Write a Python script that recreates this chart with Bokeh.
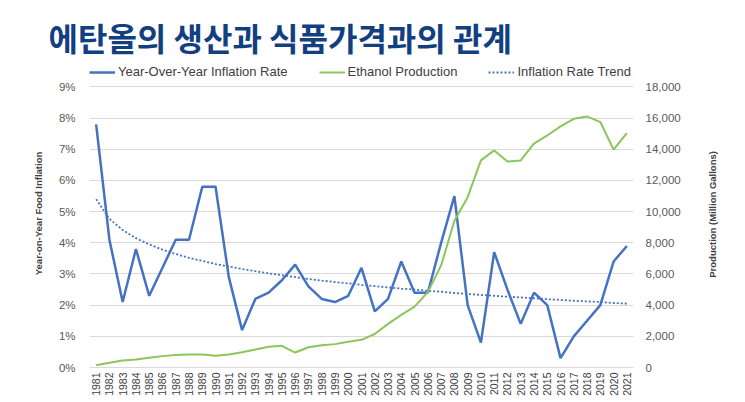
import math
from bokeh.plotting import figure
from bokeh.models import (Range1d, LinearAxis, FixedTicker, NumeralTickFormatter,
                          PrintfTickFormatter, Title, Legend, LegendItem)
from bokeh.embed import file_html
from bokeh.resources import INLINE

years = list(range(1981, 2022))
inflation = [7.8, 4.1, 2.1, 3.8, 2.3, 3.2, 4.1, 4.1, 5.8, 5.8,
             2.9, 1.2, 2.2, 2.4, 2.8, 3.3, 2.6, 2.2, 2.1, 2.3,
             3.2, 1.8, 2.2, 3.4, 2.4, 2.4, 4.0, 5.5, 2.0, 0.8,
             3.7, 2.5, 1.4, 2.4, 2.0, 0.3, 1.0, 1.5, 2.0, 3.4, 3.9]
ethanol = [150, 300, 450, 510, 620, 730, 810, 835, 835, 750,
           835, 985, 1155, 1325, 1390, 960, 1300, 1430, 1500, 1650,
           1775, 2150, 2800, 3380, 3910, 4840, 6550, 9400, 10930, 13290,
           13930, 13220, 13290, 14360, 14890, 15470, 15960, 16110, 15750, 13980, 15040]
trend = [5.40, 4.77, 4.41, 4.15, 3.95, 3.78, 3.64, 3.52, 3.42, 3.32,
         3.24, 3.16, 3.09, 3.02, 2.96, 2.90, 2.84, 2.79, 2.74, 2.70,
         2.65, 2.61, 2.57, 2.53, 2.50, 2.46, 2.43, 2.39, 2.36, 2.33,
         2.30, 2.27, 2.25, 2.22, 2.19, 2.17, 2.14, 2.12, 2.10, 2.07, 2.05]
pct_ticks = list(range(0, 10))
prod_ticks = list(range(0, 18001, 2000))
title_text = "에탄올의 생산과 식품가격과의 관계"
series_names = ["Year-Over-Year Inflation Rate", "Ethanol Production", "Inflation Rate Trend"]
left_title = "Year-on-Year Food Inflation"
right_title = "Production (Million Gallons)"

BLUE = "#4472C4"
GREEN = "#8CC65A"
GRID = "#D9D9D9"
SANS = "Liberation Sans"

# frame spans from the top of the legend row down to 0%; ticks stop at 9% / 18,000
PCT_TOP = 9.882
PROD_TOP = 18000 * PCT_TOP / 9

p = figure(width=745, height=402, output_backend="svg", toolbar_location=None,
           title=None,
           x_range=Range1d(1980.5, 2021.5), y_range=Range1d(0, PCT_TOP),
           min_border_left=89, min_border_right=112, min_border_top=59,
           min_border_bottom=35)
p.extra_y_ranges = {"prod": Range1d(0, PROD_TOP)}
p.outline_line_color = None
p.background_fill_color = "white"
p.border_fill_color = "white"
p.xgrid.grid_line_color = None
p.ygrid.grid_line_color = GRID
p.ygrid.grid_line_width = 1
p.ygrid.ticker = FixedTicker(ticks=pct_ticks)


def plain(axis):
    axis.axis_line_color = None
    axis.major_tick_line_color = None
    axis.minor_tick_line_color = None
    axis.major_tick_out = 0
    axis.major_tick_in = 0
    axis.minor_tick_out = 0
    axis.minor_tick_in = 0


ya = p.yaxis[0]
ya.ticker = FixedTicker(ticks=pct_ticks)
ya.formatter = PrintfTickFormatter(format="%d%%")
plain(ya)
ya.major_label_standoff = 14
ya.major_label_text_font = SANS
ya.major_label_text_font_size = "11.5px"
ya.major_label_text_color = "#595959"
ya.axis_label = left_title
ya.axis_label_text_font = SANS
ya.axis_label_text_font_style = "bold"
ya.axis_label_text_font_size = "9.5px"
ya.axis_label_text_color = "#404040"
ya.axis_label_standoff = 12

xa = p.xaxis[0]
xa.ticker = FixedTicker(ticks=years)
xa.major_label_orientation = math.pi / 2
plain(xa)
xa.axis_line_color = GRID
xa.major_label_standoff = 5
xa.major_label_text_font = SANS
xa.major_label_text_font_size = "10.5px"
xa.major_label_text_color = "#404040"

ra = LinearAxis(y_range_name="prod", ticker=FixedTicker(ticks=prod_ticks),
                formatter=NumeralTickFormatter(format="0,0"))
plain(ra)
ra.major_label_standoff = 12
ra.major_label_text_font = SANS
ra.major_label_text_font_size = "11.5px"
ra.major_label_text_color = "#595959"
ra.axis_label_text_font = SANS
ra.axis_label_text_font_style = "bold"
ra.axis_label_text_font_size = "9.5px"
ra.axis_label_text_color = "#404040"
ra.axis_label_standoff = 29
ra.axis_label_orientation = math.pi / 2
# the rotated label is anchored at its start; anchor it at the bottom of the
# axis and lift it with no-break spaces so that it sits centred like the original
try:
    ra.axis_label_align = "start"
    ra.axis_label = "\u00a0" * 34 + right_title
except Exception:
    ra.axis_label = right_title
p.add_layout(ra, "right")

r_blue = p.line(years, inflation, line_color=BLUE, line_width=2.5)
r_trend = p.line(years, trend, line_color=BLUE, line_width=1.8, line_dash="2 2")
r_green = p.line(years, ethanol, y_range_name="prod", line_color=GREEN, line_width=2)

legend = Legend(items=[LegendItem(label=series_names[0], renderers=[r_blue]),
                       LegendItem(label=series_names[1], renderers=[r_green]),
                       LegendItem(label=series_names[2], renderers=[r_trend])],
                location=(0, 288), orientation="horizontal")
legend.border_line_color = None
legend.background_fill_alpha = 0
legend.padding = 0
legend.margin = 0
legend.spacing = 31
legend.glyph_width = 26
legend.glyph_height = 14
legend.label_height = 14
legend.label_standoff = 3
legend.label_text_font = SANS
legend.label_text_font_size = "13px"
legend.label_text_color = "#404040"
p.add_layout(legend)

title = Title(text=title_text, align="left", offset=-41, standoff=0,
              text_font="Noto Sans CJK KR", text_font_size="32px",
              text_font_style="bold", text_color="#123F80")
p.add_layout(title, "above")

open("out.html", "w").write(file_html(p, INLINE))
